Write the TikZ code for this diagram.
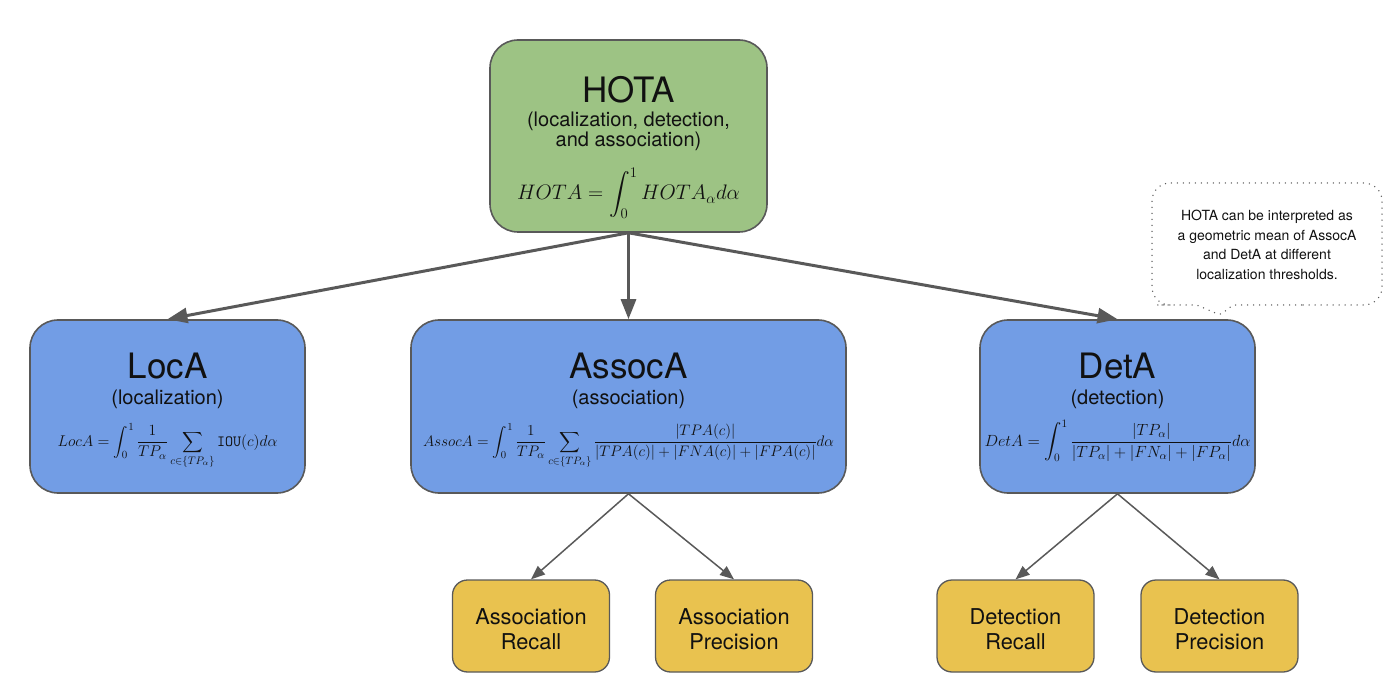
\RequirePackage{fix-cm}
\documentclass[tikz,border=0pt]{standalone}
\usepackage{exscale}
\usepackage[no-math]{fontspec}
\setmainfont{TeX Gyre Heros}
\usetikzlibrary{arrows.meta}

\definecolor{hotagreen}{HTML}{9DC384}
\definecolor{metricblue}{HTML}{729DE5}
\definecolor{leafyellow}{HTML}{E9C24F}
\definecolor{edgegray}{HTML}{595959}
\definecolor{inkblack}{HTML}{111111}

\tikzset{
  roundbox/.style={draw=edgegray, line width=1.6pt, rounded corners=28pt, text=inkblack},
  hotabox/.style={roundbox, fill=hotagreen, minimum width=277pt, minimum height=192pt},
  metricbox/.style={roundbox, fill=metricblue, minimum height=173pt},
  leafbox/.style={draw=edgegray, line width=1.3pt, rounded corners=15pt, fill=leafyellow,
    minimum width=157pt, minimum height=92pt},
  leaftext/.style={align=center, inner sep=0pt, text=inkblack, font=\fontsize{21.8}{25}\selectfont},
  boxtitle/.style={anchor=base, inner sep=0pt, text=inkblack, font=\fontsize{35}{40}\selectfont},
  boxsub/.style={anchor=base, inner sep=0pt, text=inkblack, font=\fontsize{20}{22}\selectfont},
  boxformula/.style={anchor=base, inner sep=0pt, text=inkblack, font=\fontsize{15}{18}\selectfont},
  bigarrow/.style={draw=edgegray, line width=3pt, -{Triangle[length=20pt,width=15pt]}},
  smallarrow/.style={draw=edgegray, line width=1.5pt, -{Triangle[length=14pt,width=11pt]}},
  bubble/.style={draw=edgegray, line width=1.5pt, line cap=round, dash pattern=on 0pt off 6pt},
}

\begin{document}
\begin{tikzpicture}[x=1pt, y=-1pt]
  \useasboundingbox (0,0) rectangle (1400,700);

  % Top metric
  \node[hotabox] (hota) at (628.5,136) {};
  \node[boxtitle] (hota-t) at (628.5,103) {HOTA};
  \node[boxsub] (hota-s1) at (628.5,126.5) {(localization, detection,};
  \node[boxsub] (hota-s2) at (628.5,147) {and association)};
  \node[boxformula, font=\fontsize{21}{26}\selectfont] (hota-f) at (628.5,200)
    {$\displaystyle HOTA=\int_0^1 HOTA_\alpha d\alpha$};

  % Sub-metrics
  \node[metricbox, minimum width=275pt] (loca) at (167.5,406.5) {};
  \node[boxtitle] (loca-t) at (167.5,378) {LocA};
  \node[boxsub] (loca-s) at (167.5,404) {(localization)};
  \node[boxformula, font=\fontsize{15.6}{18}\selectfont] (loca-f) at (167.5,446)
    {$\displaystyle LocA=\int_0^1 \frac{1}{TP_\alpha}\sum_{c\in\{TP_\alpha\}}\mathtt{IOU}(c)d\alpha$};

  \node[metricbox, minimum width=435pt] (assoca) at (628.5,406.5) {};
  \node[boxtitle] (assoca-t) at (628.5,378) {AssocA};
  \node[boxsub] (assoca-s) at (628.5,404) {(association)};
  \node[boxformula, font=\fontsize{15.2}{18}\selectfont] (assoca-f) at (628.5,446)
    {$\displaystyle AssocA=\int_0^1 \frac{1}{TP_\alpha}\sum_{c\in\{TP_\alpha\}}\frac{|TPA(c)|}{|TPA(c)|+|FNA(c)|+|FPA(c)|}d\alpha$};

  \node[metricbox, minimum width=275pt] (deta) at (1117.5,406.5) {};
  \node[boxtitle] (deta-t) at (1117.5,378) {DetA};
  \node[boxsub] (deta-s) at (1117.5,404) {(detection)};
  \node[boxformula, font=\fontsize{16.2}{19}\selectfont] (deta-f) at (1117.5,446)
    {$\displaystyle DetA=\int_0^1 \frac{|TP_\alpha|}{|TP_\alpha|+|FN_\alpha|+|FP_\alpha|}d\alpha$};

  % Leaf metrics
  \node[leafbox] (arecall) at (531,626) {};
  \node[leaftext] (arecall-t) at (531,629) {Association\\Recall};
  \node[leafbox] (aprec) at (734,626) {};
  \node[leaftext] (aprec-t) at (734,629) {Association\\Precision};
  \node[leafbox] (drecall) at (1015.5,626) {};
  \node[leaftext] (drecall-t) at (1015.5,629) {Detection\\Recall};
  \node[leafbox] (dprec) at (1219.5,626) {};
  \node[leaftext] (dprec-t) at (1219.5,629) {Detection\\Precision};

  % Arrows
  \draw[bigarrow] (hota.south) -- (loca.north);
  \draw[bigarrow] (hota.south) -- (assoca.north);
  \draw[bigarrow] (hota.south) -- (deta.north);
  \draw[smallarrow] (assoca.south) -- (arecall.north);
  \draw[smallarrow] (assoca.south) -- (aprec.north);
  \draw[smallarrow] (deta.south) -- (drecall.north);
  \draw[smallarrow] (deta.south) -- (dprec.north);

  % Speech bubble note
  \node[align=center, text=inkblack, font=\fontsize{14}{19.5}\selectfont] (note) at (1267,245)
    {HOTA can be interpreted as\\a geometric mean of AssocA\\and DetA at different\\localization thresholds.};
  \draw[bubble] (1300,305) [rounded corners=18pt] -- (1382,305) -- (1382,183) -- (1152,183)
    -- (1152,305) -- (1175,305) [rounded corners=3pt] -- (1197,305) -- (1220,315) -- (1233,305) -- cycle;
\end{tikzpicture}
\end{document}
